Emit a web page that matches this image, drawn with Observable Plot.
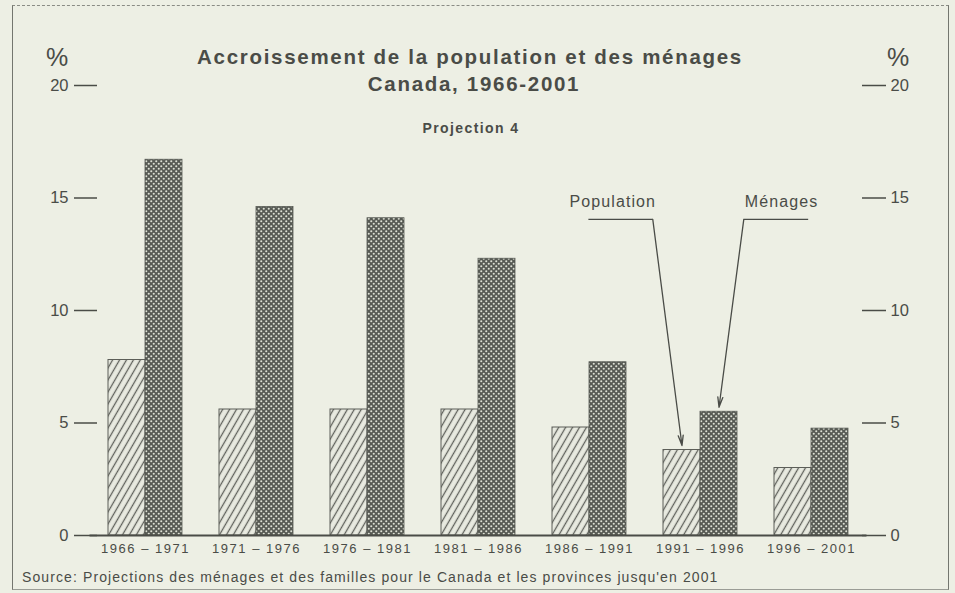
<!DOCTYPE html>
<html>
<head>
<meta charset="utf-8">
<script src="https://cdn.jsdelivr.net/npm/d3@7"></script>
<script src="https://cdn.jsdelivr.net/npm/@observablehq/plot@0.6"></script>
<style>
  html, body { margin: 0; padding: 0; background: #edefe4; }
  #wrap { position: relative; width: 955px; height: 593px; overflow: hidden; background: #edefe4;
          font-family: "Liberation Sans", Arial, Helvetica, sans-serif; color: #4a4c47; }
  #frame { position: absolute; left: 12px; top: 5px; width: 935px; height: 583px;
           border-left: 1.5px solid #74766f; border-right: 1.5px solid #74766f;
           border-top: 1.5px dashed #8a8c85; border-bottom: 1px solid #9a9c95; }
  .t { position: absolute; white-space: nowrap; transform: translate(-50%, -50%); }
  #title1 { left: 470px; top: 57px; font-size: 20.5px; font-weight: bold; letter-spacing: 1.7px; }
  #title2 { left: 474px; top: 84px; font-size: 20.5px; font-weight: bold; letter-spacing: 1.7px; }
  #sub { left: 471px; top: 128px; font-size: 14px; font-weight: bold; letter-spacing: 1.4px; }
  .pct { position: absolute; font-size: 25px; transform: translate(-50%, -50%); }
  #pctL { left: 57px; top: 57px; }
  #pctR { left: 898px; top: 57px; }
  #source { position: absolute; left: 22px; top: 577px; transform: translateY(-50%); font-size: 14px; letter-spacing: 1.1px; white-space: nowrap; }
  #chart { position: absolute; left: 0; top: 0; }
  #chart g[aria-label="x-axis tick label"] text { letter-spacing: 1.5px; }
  #chart g[aria-label="text"] text { letter-spacing: 1.1px; }
</style>
</head>
<body>
<div id="wrap">
  <div id="frame"></div>
  <div id="chart"></div>
  <div class="t" id="title1">Accroissement de la population et des ménages</div>
  <div class="t" id="title2">Canada, 1966-2001</div>
  <div class="t" id="sub">Projection 4</div>
  <div class="pct" id="pctL">%</div>
  <div class="pct" id="pctR">%</div>
  <div id="source">Source: Projections des ménages et des familles pour le Canada et les provinces jusqu'en 2001</div>
</div>
<script>
// ---- data ----
const periods = ["1966 – 1971", "1971 – 1976", "1976 – 1981", "1981 – 1986", "1986 – 1991", "1991 – 1996", "1996 – 2001"];
const population = [7.8, 5.6, 5.6, 5.6, 4.8, 3.8, 3.0];
const menages = [16.7, 14.6, 14.1, 12.3, 7.7, 5.5, 4.75];
const yTicks = [0, 5, 10, 15, 20];
const seriesNames = ["Population", "Ménages"];

// annotation anchors (in group-index / percent units)
const noteTextX = [4.21, 5.73];
const noteTextY = [14.85, 14.85];
const noteShelfFrom = [3.99, 5.97];
const noteShelfTo = [4.57, 5.39];
const noteShelfY = 14.05;
const noteTargetPeriod = 5;

const rows = periods.map((p, i) => ({i, period: p, population: population[i], menages: menages[i]}));
const w = 1 / 3; // bar width as a fraction of the group step

const notes = seriesNames.map((name, k) => ({
  name,
  tx: noteTextX[k], ty: noteTextY[k],
  sx1: noteShelfFrom[k], sx2: noteShelfTo[k],
  ax2: k === 0 ? noteTargetPeriod - w / 2 : noteTargetPeriod + w / 2,
  ay2: (k === 0 ? population[noteTargetPeriod] : menages[noteTargetPeriod]) + 0.2
}));

const ink = "#4a4c47";

const chart = Plot.plot({
  width: 955,
  height: 593,
  marginLeft: 89.5,
  marginRight: 88.5,
  marginTop: 85,
  marginBottom: 58,
  style: {background: "transparent", fontFamily: "Liberation Sans, Arial, sans-serif", color: ink},
  x: {domain: [-0.5, 6.5]},
  y: {domain: [0, 20]},
  marks: [
    Plot.rectY(rows, {x1: d => d.i - w, x2: d => d.i, y1: 0, y2: "population", fill: "url(#hatch)", stroke: "#5c5e58", strokeWidth: 1}),
    Plot.rectY(rows, {x1: d => d.i, x2: d => d.i + w, y1: 0, y2: "menages", fill: "url(#dots)", stroke: "#555852", strokeWidth: 0.8}),
    Plot.ruleY([0], {stroke: ink, strokeWidth: 2}),
    Plot.axisY({anchor: "left", ticks: yTicks, tickSize: 23, tickPadding: 6, dx: 7.5, fontSize: 16.5, label: null, strokeWidth: 1.5, strokeOpacity: 1}),
    Plot.axisY({anchor: "right", ticks: yTicks, tickSize: 24, tickPadding: 5, dx: -5.5, fontSize: 16.5, label: null, strokeWidth: 1.5, strokeOpacity: 1}),
    Plot.axisX({ticks: d3.range(periods.length), tickFormat: i => periods[i], tickSize: 0, tickPadding: 8, fontSize: 13, label: null}),
    Plot.text(notes, {x: "tx", y: "ty", text: "name", fontSize: 16, fill: ink}),
    Plot.link(notes, {x1: "sx1", x2: "sx2", y1: noteShelfY, y2: noteShelfY, stroke: ink, strokeWidth: 1.3}),
    Plot.arrow(notes, {x1: "sx2", y1: noteShelfY, x2: "ax2", y2: "ay2", stroke: ink, strokeWidth: 1.3, headLength: 12, headAngle: 28})
  ]
});

// patterns
const svg = d3.select(chart);
const defs = svg.insert("defs", ":first-child");
const hatch = defs.append("pattern").attr("id", "hatch").attr("patternUnits", "userSpaceOnUse")
  .attr("width", 6).attr("height", 6).attr("patternTransform", "rotate(30)");
hatch.append("rect").attr("width", 6).attr("height", 6).attr("fill", "#e8eae0");
hatch.append("line").attr("x1", 1.5).attr("y1", -1).attr("x2", 1.5).attr("y2", 7)
  .attr("stroke", "#5f615b").attr("stroke-width", 1.3);
const dots = defs.append("pattern").attr("id", "dots").attr("patternUnits", "userSpaceOnUse")
  .attr("width", 5).attr("height", 5);
dots.append("rect").attr("width", 5).attr("height", 5).attr("fill", "#575a54");
dots.append("circle").attr("cx", 1.25).attr("cy", 1.25).attr("r", 1.05).attr("fill", "#dde0d4");
dots.append("circle").attr("cx", 3.75).attr("cy", 3.75).attr("r", 1.05).attr("fill", "#dde0d4");

document.getElementById("chart").append(chart);
</script>
</body>
</html>
